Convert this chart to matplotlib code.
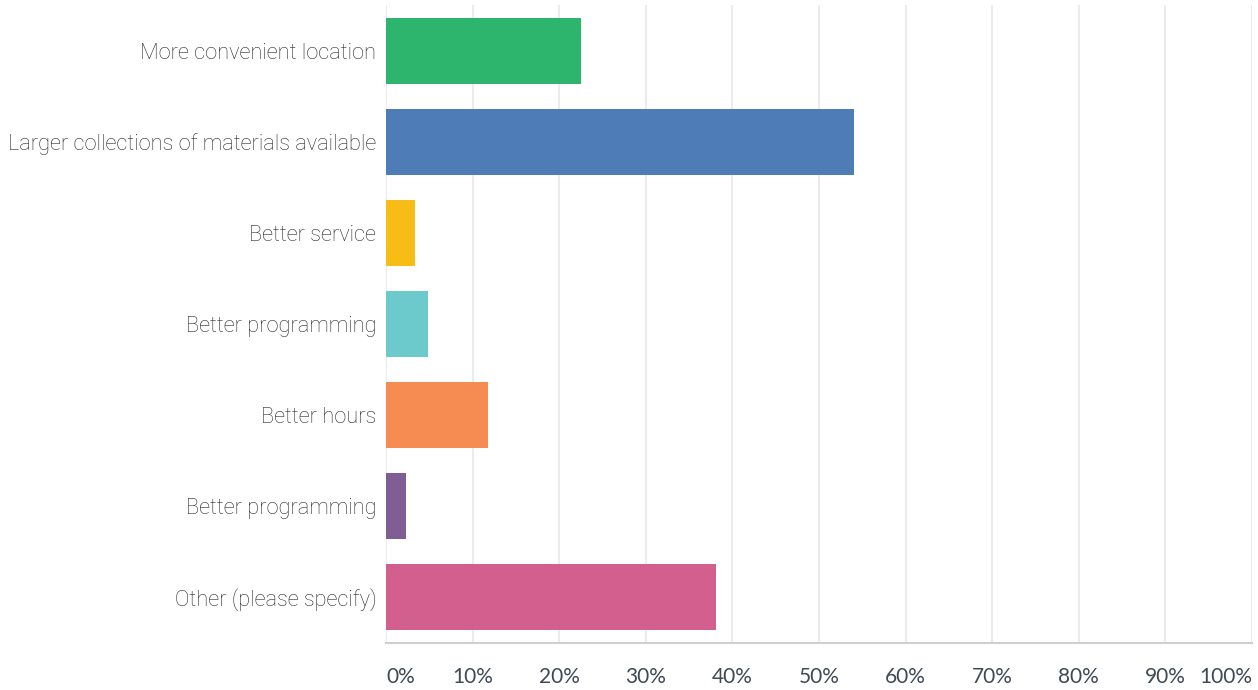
import matplotlib.pyplot as plt

# ---------------------------
# Data
# ---------------------------
categories = [
    "More convenient location",
    "Larger collections of materials available",
    "Better service",
    "Better programming",
    "Better hours",
    "Better programming",
    "Other (please specify)",
]
values = [22.5, 54.0, 3.4, 4.9, 11.8, 2.3, 38.1]
colors = ["#2DB56D", "#4E7CB7", "#F7BC15", "#6CC9CC", "#F78C53", "#7F5F93", "#D25F8D"]
ticks = list(range(0, 101, 10))
tick_labels = [f"{t}%" for t in ticks]

fig = plt.figure(figsize=(12.58, 6.9), dpi=100)
ax = fig.add_axes([0.3068, 0.0681, 0.6884, 0.9247])

pos = list(range(len(categories)))
ax.barh(pos, values, height=0.725, color=colors, zorder=3)

ax.set_xlim(0, 100)
ax.set_ylim(len(categories) - 0.5, -0.5)

ax.set_yticks(pos)
ax.set_yticklabels(categories, fontfamily="Roboto", fontweight="light",
                   fontsize=15.7, color="#2b2b2b")
ax.tick_params(axis="y", length=0, pad=7)

ax.set_xticks(ticks)
ax.set_xticklabels(tick_labels, fontfamily="Lato", fontsize=15, color="#3f4a55")
ax.tick_params(axis="x", length=0, pad=17)
labels = ax.get_xticklabels()
labels[0].set_horizontalalignment("left")
labels[-1].set_horizontalalignment("right")

ax.grid(axis="x", color="#e8ecec", linewidth=1.5, zorder=0)
for s in ["top", "right", "left"]:
    ax.spines[s].set_visible(False)
ax.spines["bottom"].set_color("#cfcfcf")
ax.spines["bottom"].set_linewidth(1.5)

fig.savefig("out.png", dpi=100)
